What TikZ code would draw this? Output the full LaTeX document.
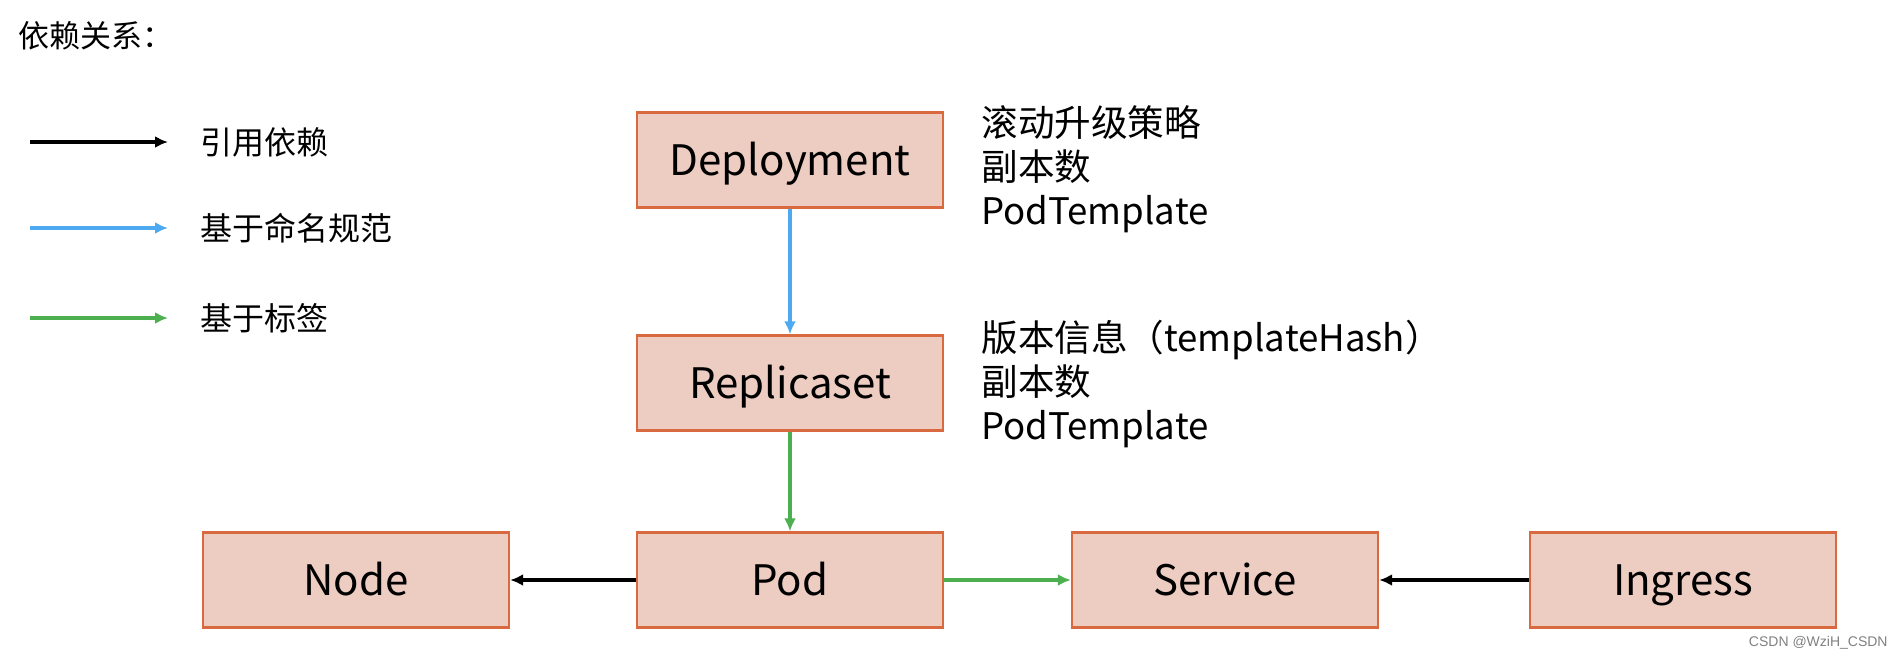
\documentclass[tikz,border=0pt]{standalone}
\usepackage{fontspec}
\setmainfont{Noto Sans CJK SC}
\newfontfamily\markfont{Liberation Sans}
\usepackage{tikz}
\usetikzlibrary{arrows.meta}

\definecolor{boxfill}{HTML}{EDCDC2}
\definecolor{boxline}{HTML}{D9693F}
\definecolor{namearrow}{HTML}{4DAAF0}
\definecolor{labelarrow}{HTML}{4CB050}

\tikzset{
  kbox/.style={draw=boxline,fill=boxfill,line width=1.2pt,minimum width=153pt,minimum height=47.5pt,inner sep=0pt,text height=15pt,text depth=0pt,font=\fontsize{21}{24}\selectfont},
  dep/.style={line width=2pt,-{Latex[length=6.5pt,width=6pt]}},
  note/.style={anchor=west,align=left,inner sep=0pt,font=\fontsize{18.3}{22}\selectfont},
  legend/.style={anchor=west,inner sep=0pt,font=\fontsize{16}{18}\selectfont}
}

\begin{document}
\begin{tikzpicture}[x=0.5pt,y=-0.5pt]
        \useasboundingbox(0,0)rectangle(1904,666);
        % title and legend
        \node[legend,font=\fontsize{15.5}{18}\selectfont](title)at(18,36){依赖关系：};
        \coordinate(l1a)at(30,142);\coordinate(l1b)at(168,142);
        \coordinate(l2a)at(30,228);\coordinate(l2b)at(168,228);
        \coordinate(l3a)at(30,318);\coordinate(l3b)at(168,318);
        \draw[dep](l1a)--(l1b);
        \draw[dep,namearrow](l2a)--(l2b);
        \draw[dep,labelarrow](l3a)--(l3b);
        \node[legend](ref)at(200,142){引用依赖};
        \node[legend](byname)at(200,228){基于命名规范};
        \node[legend](bylabel)at(200,318){基于标签};
        % resources
        \node[kbox](deploy)at(790,160){Deployment};
        \node[kbox](rs)at(790,383){Replicaset};
        \node[kbox](pod)at(790,580){Pod};
        \node[kbox](node)at(356,580){Node};
        \node[kbox](svc)at(1225,580){Service};
        \node[kbox](ing)at(1683,580){Ingress};
        \node[note](deploynote)at(981,169){滚动升级策略\\副本数\\PodTemplate};
        \node[note](rsnote)at(981,384){版本信息（templateHash）\\副本数\\PodTemplate};
        % dependencies
        \draw[dep,namearrow](deploy)--(rs);
        \draw[dep,labelarrow](rs)--(pod);
        \draw[dep](pod)--(node);
        \draw[dep,labelarrow](pod)--(svc);
        \draw[dep](ing)--(svc);
        \node[anchor=east,inner sep=0pt,text=gray,font=\markfont\fontsize{7}{8}\selectfont](mark)at(1888,643){CSDN @WziH\_CSDN};
\end{tikzpicture}
\end{document}
